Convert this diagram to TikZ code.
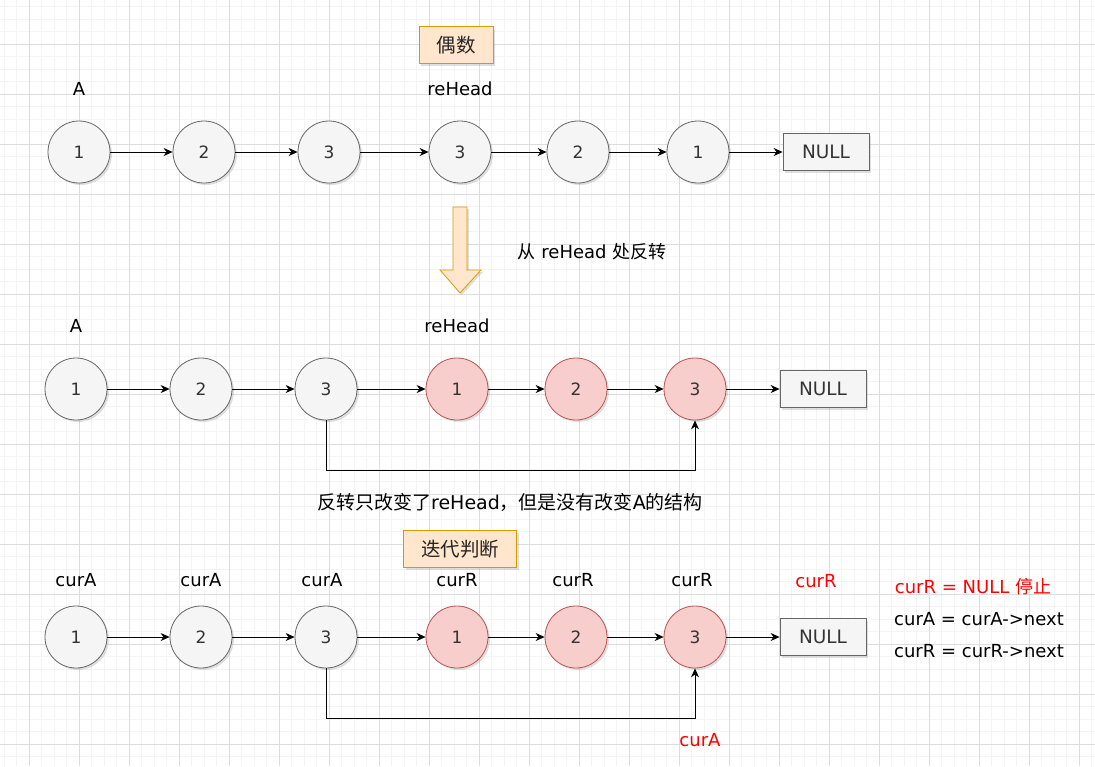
\documentclass[tikz,border=0pt]{standalone}
\usepackage{fontspec}
\setmainfont{DejaVu Sans}
\newfontfamily\cjk{Noto Sans CJK SC}
\usetikzlibrary{arrows.meta, positioning, calc, shadows}
\definecolor{lkgray}{HTML}{F5F5F5}
\definecolor{lkgrayline}{HTML}{666666}
\definecolor{lkred}{HTML}{F8CECC}
\definecolor{lkredline}{HTML}{B85450}
\definecolor{lkorange}{HTML}{FFE6CC}
\definecolor{lkorangeline}{HTML}{D79B00}
\definecolor{gridminor}{HTML}{F4F4F4}
\definecolor{gridmajor}{HTML}{DDDDDD}
\definecolor{txtred}{HTML}{FF0000}

\begin{document}
\begin{tikzpicture}[x=1pt, y=-1pt,
  lkshadow/.style={drop shadow={shadow xshift=2pt, shadow yshift=-2pt, opacity=0.25, fill=gray}},
  gnode/.style={circle, draw=lkgrayline, fill=lkgray, minimum size=62pt, inner sep=0pt, line width=0.8pt, font=\fontsize{17}{20}\selectfont, text=black!80, lkshadow},
  rnode/.style={gnode, draw=lkredline, fill=lkred},
  nullbox/.style={rectangle, draw=lkgrayline, fill=lkgray, minimum width=86pt, minimum height=37pt, line width=0.8pt, font=\fontsize{18.5}{22}\selectfont, text=black!80, lkshadow},
  tagbox/.style={rectangle, draw=lkorangeline, fill=lkorange, minimum height=37pt, line width=0.8pt, font=\cjk\fontsize{19.5}{23}\selectfont, text=black!85, lkshadow},
  lbl/.style={inner sep=0pt, font=\fontsize{18}{22}\selectfont, text=black},
  redlbl/.style={lbl, text=txtred},
  arr/.style={-{Stealth[length=9pt, width=8pt]}, line width=0.8pt}
]
\useasboundingbox (0,0) rectangle (1095,766);
% background grid
\foreach \gx in {4,16.5,...,1095} \draw[gridminor, line width=0.8pt] (\gx,0) -- (\gx,766);
\foreach \gy in {6.5,19,...,766} \draw[gridminor, line width=0.8pt] (0,\gy) -- (1095,\gy);
\foreach \gx in {29,79,...,1095} \draw[gridmajor, line width=0.8pt] (\gx,0) -- (\gx,766);
\foreach \gy in {44,94,...,766} \draw[gridmajor, line width=0.8pt] (0,\gy) -- (1095,\gy);

% even list
\node[tagbox, minimum width=74pt] (even) at (456,45) {偶数};
\node[gnode] (a1) at (79,152) {1};
\node[gnode] (a2) at (204,152) {2};
\node[gnode] (a3) at (329,152) {3};
\node[gnode] (a4) at (460,152) {3};
\node[gnode] (a5) at (578,152) {2};
\node[gnode] (a6) at (698,152) {1};
\node[nullbox] (anull) at (826,152) {NULL};
\node[lbl, above=25pt of a1] (alblA) {A};
\node[lbl, above=25pt of a4] (alblR) {reHead};
\draw[arr] (a1) -- (a2);
\draw[arr] (a2) -- (a3);
\draw[arr] (a3) -- (a4);
\draw[arr] (a4) -- (a5);
\draw[arr] (a5) -- (a6);
\draw[arr] (a6) -- (anull);

% reverse step
\draw[draw=lkorangeline, fill=lkorange, line width=0.8pt, lkshadow]
  (453,207) -- (467,207) -- (467,270) -- (481,270) -- (460,293) -- (440,270) -- (453,270) -- cycle;
\node[lbl] (revtxt) at (592,252) {{\cjk 从} reHead {\cjk 处反转}};

% after reversing
\node[gnode] (b1) at (76,389) {1};
\node[gnode] (b2) at (201,389) {2};
\node[gnode] (b3) at (326,389) {3};
\node[rnode] (b4) at (457,389) {1};
\node[rnode] (b5) at (576,389) {2};
\node[rnode] (b6) at (695,389) {3};
\node[nullbox] (bnull) at (823,389) {NULL};
\node[lbl, above=25pt of b1] (blblA) {A};
\node[lbl, above=25pt of b4] (blblR) {reHead};
\draw[arr] (b1) -- (b2);
\draw[arr] (b2) -- (b3);
\draw[arr] (b3) -- (b4);
\draw[arr] (b4) -- (b5);
\draw[arr] (b5) -- (b6);
\draw[arr] (b6) -- (bnull);
\draw[arr] (b3.south) -- ++(0,50) -| (b6.south);
\node[lbl, font=\fontsize{19}{23}\selectfont] (note) at (510,502) {{\cjk 反转只改变了}reHead{\cjk ，但是没有改变}A{\cjk 的结构}};

% iteration
\node[tagbox, minimum width=113pt] (iter) at (460,549) {迭代判断};
\node[gnode] (c1) at (76,637) {1};
\node[gnode] (c2) at (201,637) {2};
\node[gnode] (c3) at (326,637) {3};
\node[rnode] (c4) at (457,637) {1};
\node[rnode] (c5) at (576,637) {2};
\node[rnode] (c6) at (695,637) {3};
\node[nullbox] (cnull) at (823,637) {NULL};
\node[lbl, above=19pt of c1] (clbl1) {curA};
\node[lbl, above=19pt of c2] (clbl2) {curA};
\node[lbl, above=19pt of c3, xshift=-4pt] (clbl3) {curA};
\node[lbl, above=19pt of c4] (clbl4) {curR};
\node[lbl, above=19pt of c5, xshift=-3pt] (clbl5) {curR};
\node[lbl, above=19pt of c6, xshift=-3pt] (clbl6) {curR};
\node[redlbl] (clblnull) at (816,581) {curR};
\draw[arr] (c1) -- (c2);
\draw[arr] (c2) -- (c3);
\draw[arr] (c3) -- (c4);
\draw[arr] (c4) -- (c5);
\draw[arr] (c5) -- (c6);
\draw[arr] (c6) -- (cnull);
\draw[arr] (c3.south) -- ++(0,50) -| (c6.south);
\node[redlbl] (clblA) at (700,740) {curA};

% rules
\node[redlbl] (stop) at (973,587) {curR = NULL {\cjk 停止}};
\node[lbl] (stepA) at (979,619) {curA = curA->next};
\node[lbl] (stepR) at (979,651) {curR = curR->next};
\end{tikzpicture}
\end{document}
